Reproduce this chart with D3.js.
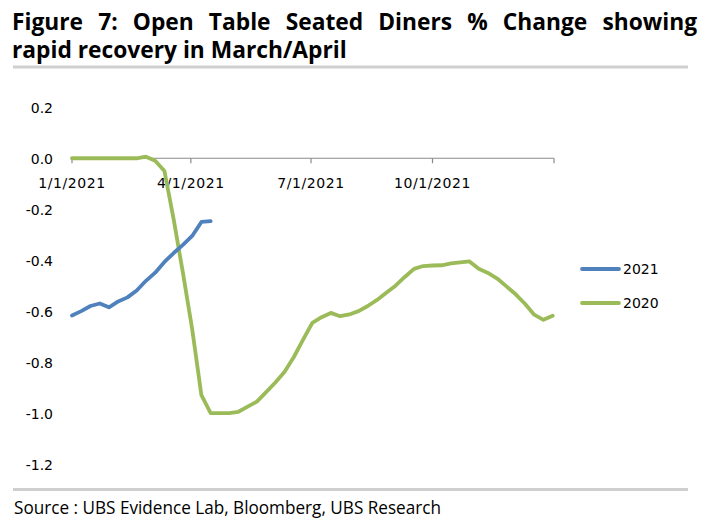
<!DOCTYPE html>
<html><head><meta charset="utf-8">
<script src="https://cdn.jsdelivr.net/npm/d3@7/dist/d3.min.js"></script>
<style>
body{margin:0;background:#fff;}
svg{display:block;}
</style></head>
<body><svg id="c" width="708" height="531"></svg>
<script>
const titleLines = ["Figure 7: Open Table Seated Diners % Change showing", "rapid recovery in March/April"];
const sourceText = "Source : UBS Evidence Lab, Bloomberg, UBS Research";
const seriesNames = ["2021", "2020"];
const seriesColors = ["#4F81BD", "#9BBB59"];
const startDate = "2021-01-01";
const xTickLabels = ["1/1/2021", "4/1/2021", "7/1/2021", "10/1/2021"];
const xTickDates = ["2021-01-01", "2021-04-01", "2021-07-01", "2021-10-01", "2022-01-01"];
const yTicks = [0.2, 0.0, -0.2, -0.4, -0.6, -0.8, -1.0, -1.2];
// weekly values
const values2021 = [-0.617, -0.60, -0.58, -0.57, -0.585, -0.562, -0.546, -0.519, -0.481, -0.449, -0.407, -0.372, -0.34, -0.305, -0.25, -0.247];
const values2020 = [0, 0, 0, 0, 0, 0, 0, 0, 0.006, -0.01, -0.05, -0.24, -0.45, -0.67, -0.93, -1.0, -1.0, -1.0, -0.995, -0.975, -0.955, -0.918, -0.88, -0.838, -0.78, -0.712, -0.646, -0.624, -0.607, -0.62, -0.613, -0.6, -0.58, -0.556, -0.528, -0.5, -0.466, -0.434, -0.423, -0.421, -0.42, -0.413, -0.409, -0.405, -0.434, -0.45, -0.472, -0.503, -0.534, -0.571, -0.614, -0.634, -0.618];

const svg = d3.select("#c");
const parse = d3.utcParse("%Y-%m-%d");
const t0 = parse(startDate);
const weekDate = i => d3.utcDay.offset(t0, 7 * i);

const x = d3.scaleUtc().domain([parse("2021-01-01"), parse("2022-01-01")]).range([72, 554]);
const y = d3.scaleLinear().domain([-1.2, 0.2]).range([464, 107.3]);

// Title (justified)
const titleFont = "'Open Sans', sans-serif";
function titleLine(txt, x0, x1, yb, justify) {
  const s = 0.99;
  const t = svg.append("text").attr("x", 0).attr("y", 0)
    .attr("transform", `translate(${x0},${yb}) scale(${s},1)`)
    .attr("font-family", titleFont).attr("font-size", 23)
    .attr("font-weight", "bold").attr("fill", "#000").text(txt);
  if (justify) {
    const w = t.node().getComputedTextLength();
    const n = txt.split(" ").length - 1;
    t.attr("word-spacing", ((x1 - x0) / s - w) / n);
  }
}
titleLine(titleLines[0], 12, 697, 30, true);
titleLine(titleLines[1], 12, 697, 58, false);

svg.append("rect").attr("x", 13).attr("y", 65.5).attr("width", 675).attr("height", 3).attr("fill", "#cfcfcf");
svg.append("rect").attr("x", 13).attr("y", 488).attr("width", 675).attr("height", 3).attr("fill", "#cfcfcf");

svg.append("text").attr("x", 14).attr("y", 514)
  .attr("font-family", "'Open Sans', sans-serif")
  .attr("font-size", 17.5).attr("fill", "#000")
  .attr("textLength", 427).attr("lengthAdjust", "spacingAndGlyphs")
  .text(sourceText);

// Y labels
svg.append("g").selectAll("text").data(yTicks).join("text")
  .attr("x", 53).attr("y", d => y(d) + 1).attr("dy", "0.35em")
  .attr("text-anchor", "end")
  .attr("font-family", "'DejaVu Sans', sans-serif").attr("font-size", 14)
  .attr("fill", "#000").text(d => d3.format(".1f")(d).replace("−", "-"));

// X axis
const axisG = svg.append("g").attr("transform", `translate(0,${y(0)})`);
axisG.append("line").attr("x1", x.range()[0]).attr("x2", x.range()[1])
  .attr("stroke", "#8a8a8a").attr("stroke-width", 1.2);
axisG.selectAll("line.tk").data(xTickDates).join("line").attr("class", "tk")
  .attr("x1", d => x(parse(d))).attr("x2", d => x(parse(d)))
  .attr("y1", 0).attr("y2", 5).attr("stroke", "#8a8a8a").attr("stroke-width", 1.2);
axisG.selectAll("text").data(xTickLabels).join("text")
  .attr("x", (d, i) => x(parse(xTickDates[i]))).attr("y", 30)
  .attr("text-anchor", "middle")
  .attr("font-family", "'DejaVu Sans', sans-serif").attr("font-size", 14)
  .attr("letter-spacing", 0.6)
  .attr("fill", "#000").text(d => d);

// Lines
const line = d3.line().x((d, i) => x(weekDate(i))).y(d => y(d));
svg.append("path").datum(values2020).attr("d", line)
  .attr("fill", "none").attr("stroke", seriesColors[1]).attr("stroke-width", 3.8)
  .attr("stroke-linejoin", "round").attr("stroke-linecap", "round");
svg.append("path").datum(values2021).attr("d", line)
  .attr("fill", "none").attr("stroke", seriesColors[0]).attr("stroke-width", 3.8)
  .attr("stroke-linejoin", "round").attr("stroke-linecap", "round");

// Legend
const lg = svg.append("g");
seriesNames.forEach((n, i) => {
  const yy = 269 + i * 34;
  lg.append("line").attr("x1", 582).attr("x2", 619).attr("y1", yy).attr("y2", yy)
    .attr("stroke", seriesColors[i]).attr("stroke-width", 3.8).attr("stroke-linecap", "round");
  lg.append("text").attr("x", 623).attr("y", yy).attr("dy", "0.36em")
    .attr("font-family", "'DejaVu Sans', sans-serif").attr("font-size", 14)
    .attr("fill", "#000").text(n);
});
</script></body></html>
